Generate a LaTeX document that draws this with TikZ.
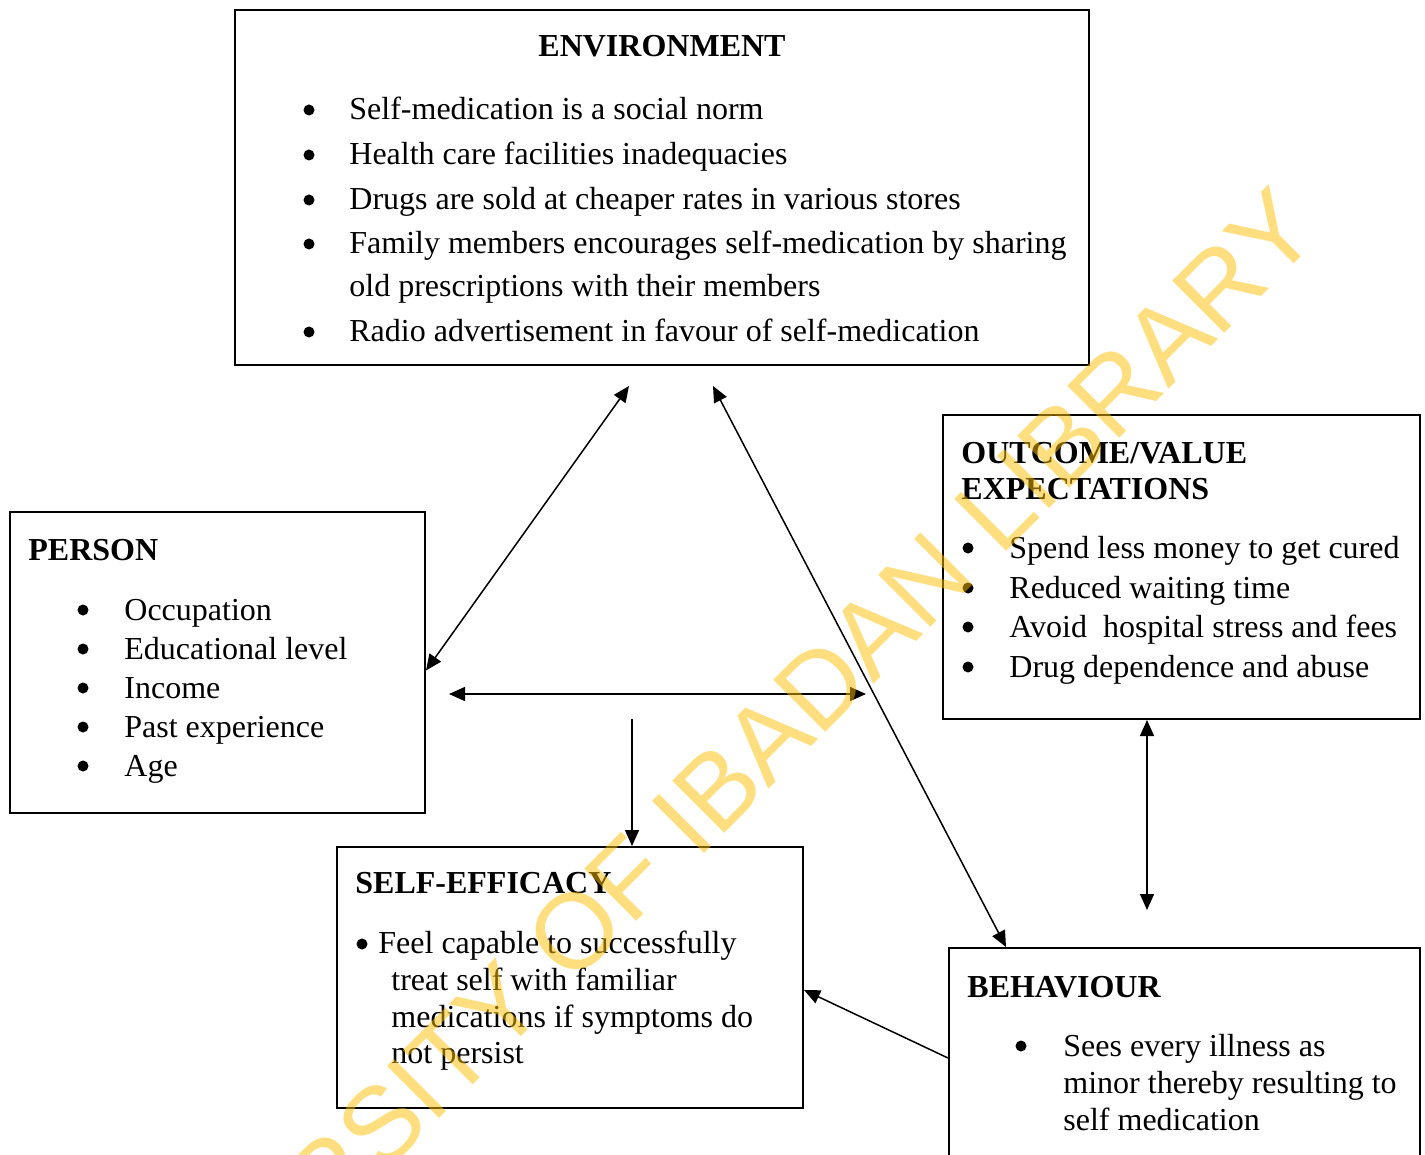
\documentclass[tikz,border=0pt]{standalone}
\usepackage{fontspec}
\setmainfont{Liberation Serif}
\newfontfamily\wmfont{Liberation Sans}
\usetikzlibrary{arrows.meta,calc}
\begin{document}
\begin{tikzpicture}[x=0.5pt,y=-0.5pt,
  box/.style={draw, line width=1pt, inner sep=0pt, rectangle},
  txt/.style={anchor=base west, inner sep=0pt, font=\fontsize{16}{19}\selectfont},
  ttl/.style={anchor=base west, inner sep=0pt, font=\fontsize{16}{19}\selectfont\bfseries},
  bul/.style={circle, fill=black, inner sep=0pt, minimum size=5.5pt},
  arr/.style={line width=0.75pt, {Triangle[length=8pt,width=7pt]}-{Triangle[length=8pt,width=7pt]}},
  arrone/.style={line width=0.75pt, -{Triangle[length=8pt,width=7pt]}},
  wm/.style={anchor=base west, inner sep=0pt, rotate=45, text=wmcol, text opacity=0.5,
    font=\wmfont\fontsize{53.5}{60}\selectfont}
]
\definecolor{wmcol}{RGB}{255,190,0}
\useasboundingbox (0,0) rectangle (1425,1155);
\begin{scope}
\clip (0,0) rectangle (1425,1155);

% ---------- boxes ----------
\node[box, minimum width=427pt, minimum height=177.5pt] (env) at (662,187.5) {};
\node[box, minimum width=207.5pt, minimum height=150.5pt] (person) at (217.5,662.5) {};
\node[box, minimum width=238.5pt, minimum height=152pt] (outc) at (1181.5,567) {};
\node[box, minimum width=233pt, minimum height=130.5pt] (self) at (570,977.5) {};
\node[box, minimum width=235.5pt, minimum height=116pt] (behav) at (1184.5,1064) {};

% ---------- ENVIRONMENT ----------
\node[anchor=base, inner sep=0pt, font=\fontsize{16}{19}\selectfont\bfseries] (envt) at (662,57) {ENVIRONMENT};
\node[bul] (eb1) at (309,110) {};
\node[txt] (e1) at (349,120) {Self-medication is a social norm};
\node[bul] (eb2) at (309,155) {};
\node[txt] (e2) at (349,165) {Health care facilities inadequacies};
\node[bul] (eb3) at (309,200) {};
\node[txt] (e3) at (349,210) {Drugs are sold at cheaper rates in various stores};
\node[bul] (eb4) at (309,244) {};
\node[txt] (e4) at (349,254) {Family members encourages self-medication by sharing};
\node[txt] (e4b) at (349,297) {old prescriptions with their members};
\node[bul] (eb5) at (309,332) {};
\node[txt] (e5) at (349,342) {Radio advertisement in favour of self-medication};

% ---------- PERSON ----------
\node[ttl] (pt) at (28,560) {PERSON};
\node[bul] (pb1) at (83,610) {};
\node[txt] (p1) at (124,620) {Occupation};
\node[bul] (pb2) at (83,649) {};
\node[txt] (p2) at (124,659) {Educational level};
\node[bul] (pb3) at (83,688) {};
\node[txt] (p3) at (124,698) {Income};
\node[bul] (pb4) at (83,727) {};
\node[txt] (p4) at (124,737) {Past experience};
\node[bul] (pb5) at (83,766) {};
\node[txt] (p5) at (124,776) {Age};

% ---------- OUTCOME ----------
\node[ttl] (ot1) at (961,463) {OUTCOME/VALUE};
\node[ttl] (ot2) at (961,499) {EXPECTATIONS};
\node[bul] (ob1) at (968,548) {};
\node[txt] (o1) at (1009,558) {Spend less money to get cured};
\node[bul] (ob2) at (968,588) {};
\node[txt] (o2) at (1009,598) {Reduced waiting time};
\node[bul] (ob3) at (968,627) {};
\node[txt] (o3) at (1009,637) {Avoid\ \ hospital stress and fees};
\node[bul] (ob4) at (968,667) {};
\node[txt] (o4) at (1009,677) {Drug dependence and abuse};

% ---------- SELF-EFFICACY ----------
\node[ttl] (st) at (355,893) {SELF-EFFICACY};
\node[bul] (sb1) at (362,944) {};
\node[txt] (s1) at (378,953) {Feel capable to successfully};
\node[txt] (s2) at (391,990) {treat self with familiar};
\node[txt] (s3) at (391,1027) {medications if symptoms do};
\node[txt] (s4) at (391,1063) {not persist};

% ---------- BEHAVIOUR ----------
\node[ttl] (bt) at (967,997) {BEHAVIOUR};
\node[bul] (bb1) at (1021,1046) {};
\node[txt] (b1) at (1063,1056) {Sees every illness as};
\node[txt] (b2) at (1063,1093) {minor thereby resulting to};
\node[txt] (b3) at (1063,1130) {self medication};

% ---------- connectors ----------
\coordinate (envl) at (629,386);
\coordinate (envr) at (713,386);
\coordinate (hl) at (449,694);
\coordinate (hr) at (866,694);
\coordinate (vtop) at (632,719);
\coordinate (vbot) at (1147,910);
\draw[arr] (envl) -- ([yshift=-4pt]person.east);
\draw[arr] (envr) -- ([xshift=29pt]behav.north west);
\draw[arr] (hl) -- (hr);
\draw[arrone] (vtop) -- (vtop |- self.north);
\draw[arr] (vbot |- outc.south) -- (vbot);
\draw[arrone] ([yshift=3pt]behav.west) -- ([yshift=-6.25pt]self.east);

% ---------- watermark ----------
\node[wm] (wmark) at (96,1462) {UNIVERSITY OF IBADAN LIBRARY};
\end{scope}
\end{tikzpicture}
\end{document}
